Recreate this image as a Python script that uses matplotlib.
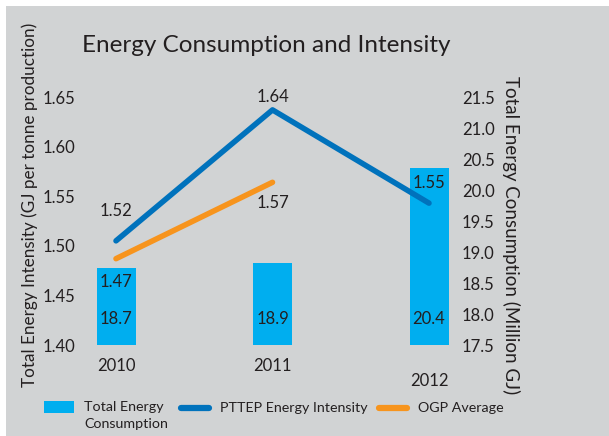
import matplotlib.pyplot as plt
from matplotlib.patches import Rectangle
from matplotlib.lines import Line2D
import numpy as np

plt.rcParams['font.family'] = ['Lato', 'DejaVu Sans']

years = ["2010", "2011", "2012"]
consumption = [18.74, 18.82, 20.35]       # million GJ (right axis), as drawn
consumption_labels = ["18.7", "18.9", "20.4"]
pttep_intensity = [1.505, 1.637, 1.543]   # GJ per tonne, as drawn
pttep_labels = ["1.52", "1.64", "1.55"]
ogp_years = [0, 1]
ogp_intensity = [1.487, 1.564]
ogp_labels = ["1.47", "1.57"]

BAR_C = '#00aeef'
PTTEP_C = '#0072bc'
OGP_C = '#f7941d'
BG = '#d1d3d4'
TXT = '#231f20'

W, H = 609, 436
fig = plt.figure(figsize=(W / 100, H / 100), dpi=100, facecolor='white')
fig.patches.append(Rectangle((6 / W, 0), 1, 1 - 6 / H, transform=fig.transFigure,
                             facecolor=BG, edgecolor='none', zorder=-10))

# axes placed in pixels: left 82, right 455, top 97, bottom 345
l, r, t, b = 82, 455, 97, 345
ax = fig.add_axes([l / W, 1 - b / H, (r - l) / W, (b - t) / H])
ax.patch.set_visible(False)
x = np.arange(len(years))
ax2 = ax.twinx()
ax2.patch.set_visible(False)

s = 156.5
ax.set_xlim(-(116 - l) / s, 2 + (r - 429) / s)
ax.set_ylim(1.40, 1.65)
ax2.set_ylim(17.5, 21.5)

ax2.bar(x, np.array(consumption) - 17.5, bottom=17.5, width=39 / s, color=BAR_C, zorder=1)
ax.set_zorder(ax2.get_zorder() + 1)
ax.plot(x, pttep_intensity, color=PTTEP_C, lw=4, solid_capstyle='round')
ax.plot(ogp_years, ogp_intensity, color=OGP_C, lw=4, solid_capstyle='round')

fs = 12
for a in (ax, ax2):
    for sp in a.spines.values():
        sp.set_visible(False)
    a.tick_params(length=0, labelsize=fs, labelcolor=TXT)
ax.set_yticks(np.arange(1.40, 1.651, 0.05))
ax.set_yticklabels([f"{v:.2f}" for v in np.arange(1.40, 1.651, 0.05)])
ax.tick_params(axis='y', pad=5)
ax2.set_yticks(np.arange(17.5, 21.51, 0.5))
ax2.set_yticklabels([f"{v:.1f}" for v in np.arange(17.5, 21.51, 0.5)])
ax2.tick_params(axis='y', pad=5)
ax.set_xticks([])

# year labels (2012 sits lower in the original)
year_off = [-21, -21, -36]
for i, yr in enumerate(years):
    ax.annotate(yr, (x[i], 1.40), xytext=(0, year_off[i]), textcoords='offset pixels',
                ha='center', va='center', fontsize=fs, color=TXT, annotation_clip=False)

# data labels
p_off = [30, 13, 20]
for i, lab in enumerate(pttep_labels):
    ax.annotate(lab, (x[i], pttep_intensity[i]), xytext=(0, p_off[i]), textcoords='offset pixels',
                ha='center', va='center', fontsize=fs, color=TXT, annotation_clip=False)
o_off = [-23, -21]
for i, lab in enumerate(ogp_labels):
    ax.annotate(lab, (ogp_years[i], ogp_intensity[i]), xytext=(0, o_off[i]), textcoords='offset pixels',
                ha='center', va='center', fontsize=fs, color=TXT, annotation_clip=False)
for i, lab in enumerate(consumption_labels):
    ax2.annotate(lab, (x[i], 17.5), xytext=(0, 26), textcoords='offset pixels',
                 ha='center', va='center', fontsize=fs, color=TXT)

fig.text(266 / W, 1 - 46 / H, "Energy Consumption and Intensity", ha='center', va='center',
         fontsize=17.5, color=TXT)
fig.text(30 / W, 1 - 205 / H, "Total Energy Intensity (GJ per tonne production)", rotation=90,
         ha='center', va='center', fontsize=12.3, color=TXT)
fig.text(511 / W, 1 - 235 / H, "Total Energy Consumption (Million GJ)", rotation=-90,
         ha='center', va='center', fontsize=13.5, color=TXT)

# legend, laid out by hand in pixel positions
lfs = 10.3
ly = 1 - 408 / H
fig.patches.append(Rectangle((44 / W, 1 - 413 / H), 30 / W, 12 / H, transform=fig.transFigure,
                             facecolor=BAR_C, edgecolor='none'))
fig.text(84 / W, 1 - 401 / H, "Total Energy\nConsumption", ha='left', va='top',
         fontsize=lfs, color=TXT, linespacing=1.45)
fig.add_artist(Line2D([181 / W, 209 / W], [ly, ly], color=PTTEP_C, lw=4.5,
                      solid_capstyle='round', transform=fig.transFigure))
fig.text(220 / W, ly, "PTTEP Energy Intensity", ha='left', va='center', fontsize=lfs, color=TXT)
fig.add_artist(Line2D([379 / W, 407 / W], [ly, ly], color=OGP_C, lw=4.5,
                      solid_capstyle='round', transform=fig.transFigure))
fig.text(418 / W, ly, "OGP Average", ha='left', va='center', fontsize=lfs, color=TXT)

fig.savefig('out.png', dpi=100, facecolor='white')
